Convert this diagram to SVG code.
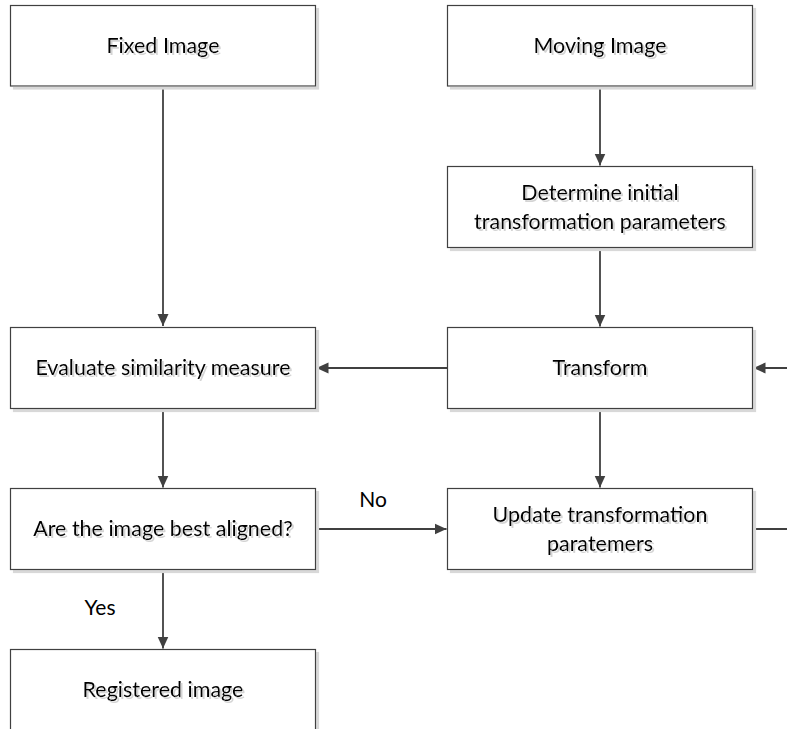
<svg xmlns="http://www.w3.org/2000/svg" width="787" height="729" viewBox="0 0 787 729">
  <style>
    .box { fill: #ffffff; stroke: #404040; stroke-width: 1.2; filter: url(#boxShadow); }
    .label { font-family: Lato, "Open Sans", "Liberation Sans", sans-serif; font-size: 21.5px; fill: #000000; text-anchor: middle; filter: url(#textShadow); }
    .edge { stroke: #404040; stroke-width: 1.8; fill: none; }
    .edge-label { font-family: Lato, "Open Sans", "Liberation Sans", sans-serif; font-size: 21px; fill: #000000; text-anchor: middle; }
  </style>
  <defs>
    <filter id="boxShadow" x="-5%" y="-5%" width="110%" height="115%">
      <feFlood flood-color="#d8d8d8" result="c"/>
      <feComposite in="c" in2="SourceAlpha" operator="in" result="s"/>
      <feOffset in="s" dx="2.5" dy="2.5" result="o"/>
      <feMerge><feMergeNode in="o"/><feMergeNode in="SourceGraphic"/></feMerge>
    </filter>
    <filter id="textShadow" x="-5%" y="-20%" width="110%" height="150%">
      <feFlood flood-color="#d4d4d4" result="c"/>
      <feComposite in="c" in2="SourceAlpha" operator="in" result="s"/>
      <feOffset in="s" dx="1.5" dy="1.5" result="o"/>
      <feMerge><feMergeNode in="o"/><feMergeNode in="SourceGraphic"/></feMerge>
    </filter>
    <marker id="arrow" viewBox="0 0 12 12" refX="12" refY="6" markerWidth="12" markerHeight="12" markerUnits="userSpaceOnUse" orient="auto">
      <path d="M0,0.5 L12,6 L0,11.5 Z" fill="#404040"/>
    </marker>
  </defs>

  <!-- flow connectors -->
  <g id="connectors">
    <line class="edge" x1="163" y1="86" x2="163" y2="326" marker-end="url(#arrow)"/>
    <line class="edge" x1="600" y1="86" x2="600" y2="165.5" marker-end="url(#arrow)"/>
    <line class="edge" x1="600" y1="247.5" x2="600" y2="326.5" marker-end="url(#arrow)"/>
    <line class="edge" x1="447.5" y1="368" x2="316.5" y2="368" marker-end="url(#arrow)"/>
    <line class="edge" x1="600" y1="408.5" x2="600" y2="487.5" marker-end="url(#arrow)"/>
    <line class="edge" x1="163" y1="408.5" x2="163" y2="487.5" marker-end="url(#arrow)"/>
    <line class="edge" x1="315.5" y1="529" x2="446.5" y2="529" marker-end="url(#arrow)"/>
    <line class="edge" x1="163" y1="569.5" x2="163" y2="648.5" marker-end="url(#arrow)"/>
    <line class="edge" x1="752.5" y1="529" x2="790" y2="529"/>
    <line class="edge" x1="790" y1="368" x2="753.5" y2="368" marker-end="url(#arrow)"/>
    <text class="edge-label" x="373" y="507">No</text>
    <text class="edge-label" x="100" y="615">Yes</text>
  </g>

  <g id="fixed-image">
    <rect class="box" x="10.5" y="5.5" width="305" height="80.5"/>
    <text class="label" x="163" y="53">Fixed Image</text>
  </g>
  <g id="moving-image">
    <rect class="box" x="447.5" y="5.5" width="305" height="80.5"/>
    <text class="label" x="600" y="53">Moving Image</text>
  </g>
  <g id="initial-parameters">
    <rect class="box" x="447.5" y="166.5" width="305" height="81"/>
    <text class="label" x="600" y="200">Determine initial</text>
    <text class="label" x="600" y="229">transformation parameters</text>
  </g>
  <g id="evaluate-similarity">
    <rect class="box" x="10.5" y="327.5" width="305" height="81"/>
    <text class="label" x="163" y="375">Evaluate similarity measure</text>
  </g>
  <g id="transform">
    <rect class="box" x="447.5" y="327.5" width="305" height="81"/>
    <text class="label" x="600" y="375">Transform</text>
  </g>
  <g id="best-aligned">
    <rect class="box" x="10.5" y="488.5" width="305" height="81"/>
    <text class="label" x="163" y="536">Are the image best aligned?</text>
  </g>
  <g id="update-parameters">
    <rect class="box" x="447.5" y="488.5" width="305" height="81"/>
    <text class="label" x="600" y="522">Update transformation</text>
    <text class="label" x="600" y="551">paratemers</text>
  </g>
  <g id="registered-image">
    <rect class="box" x="10.5" y="649.5" width="305" height="90"/>
    <text class="label" x="163" y="697">Registered image</text>
  </g>
</svg>
